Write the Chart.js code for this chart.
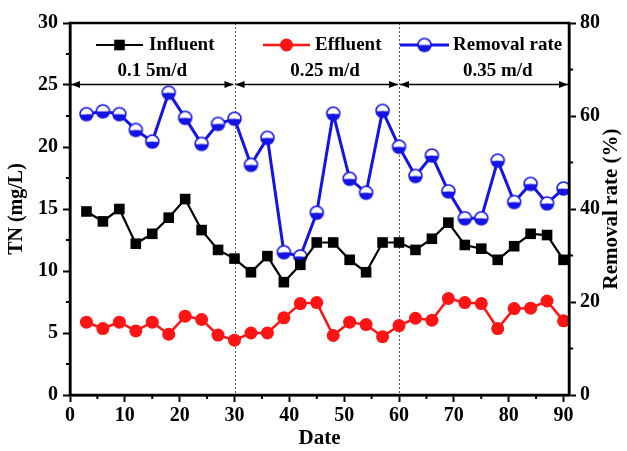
<!DOCTYPE html>
<html>
<head>
<meta charset="utf-8">
<script src="https://cdn.jsdelivr.net/npm/chart.js@4.4.0/dist/chart.umd.min.js"></script>
<style>
  html, body { margin: 0; padding: 0; background: #fff; }
</style>
</head>
<body>
<canvas id="myChart" width="627" height="451"></canvas>
<script>
const days = [3, 6, 9, 12, 15, 18, 21, 24, 27, 30, 33, 36, 39, 42, 45, 48, 51, 54, 57, 60, 63, 66, 69, 72, 75, 78, 81, 84, 87, 90];
const influent = [14.8, 14.0, 15.0, 12.2, 13.0, 14.3, 15.8, 13.3, 11.7, 11.0, 9.9, 11.2, 9.1, 10.5, 12.3, 12.3, 10.9, 9.9, 12.3, 12.3, 11.7, 12.6, 13.9, 12.1, 11.8, 10.9, 12.0, 13.0, 12.9, 10.9];
const effluent = [5.87, 5.36, 5.87, 5.17, 5.87, 4.9, 6.36, 6.09, 4.83, 4.42, 5.0, 5.0, 6.22, 7.37, 7.45, 4.8, 5.87, 5.68, 4.7, 5.6, 6.19, 6.03, 7.78, 7.45, 7.37, 5.36, 6.97, 7.0, 7.58, 5.98];
const removalRate = [60.4, 61.0, 60.4, 57.0, 54.5, 65.0, 59.6, 54.0, 58.3, 59.4, 49.5, 55.3, 30.7, 29.8, 39.2, 60.5, 46.5, 43.5, 61.1, 53.4, 47.1, 51.5, 43.8, 38.0, 38.0, 50.4, 41.5, 45.4, 41.2, 44.4];

const xTicks = [0, 10, 20, 30, 40, 50, 60, 70, 80, 90];
const xMinor = [5, 15, 25, 35, 45, 55, 65, 75, 85];
const yTicks = [0, 5, 10, 15, 20, 25, 30];
const yMinor = [2.5, 7.5, 12.5, 17.5, 22.5, 27.5];
const y1Ticks = [0, 20, 40, 60, 80];
const y1Minor = [10, 30, 50, 70];

const stageBounds = [0, 30, 60, 90];
const stageLabels = ['0.1 5m/d', '0.25 m/d', '0.35 m/d'];
const stageLabelDays = [15, 46.5, 78];

const FONT = '"Liberation Serif", "Times New Roman", serif';
const BLUE = '#1414e6';
const RED = '#ff1414';

// half filled circle used for the removal rate markers
function halfCircle(r) {
    const c = document.createElement('canvas');
    const s = 2 * r + 4;
    c.width = s;
    c.height = s;
    const g = c.getContext('2d');
    const m = s / 2;
    g.beginPath();
    g.arc(m, m, r, 0, Math.PI);
    g.fillStyle = BLUE;
    g.fill();
    g.beginPath();
    g.arc(m, m, r, Math.PI, 2 * Math.PI);
    g.fillStyle = '#fff';
    g.fill();
    g.beginPath();
    g.arc(m, m, r, 0, 2 * Math.PI);
    g.lineWidth = 1.5;
    g.strokeStyle = BLUE;
    g.stroke();
    return c;
}
const halfMarker = halfCircle(6.5);

function toPoints(values) {
    return days.map((d, i) => ({ x: d, y: values[i] }));
}

function arrowHead(ctx, x, y, dir) {
    ctx.beginPath();
    ctx.moveTo(x, y);
    ctx.lineTo(x - dir * 9, y - 3.5);
    ctx.lineTo(x - dir * 9, y + 3.5);
    ctx.closePath();
    ctx.fill();
}

const overlay = {
    id: 'overlay',
    beforeDatasetsDraw(chart) {
        const ctx = chart.ctx;
        const a = chart.chartArea;
        const x = chart.scales.x;
        ctx.save();
        ctx.strokeStyle = '#555';
        ctx.lineWidth = 1;
        ctx.setLineDash([2, 2]);
        [30, 60].forEach(v => {
            const px = Math.round(x.getPixelForValue(v)) + 0.5;
            ctx.beginPath();
            ctx.moveTo(px, a.top);
            ctx.lineTo(px, a.bottom);
            ctx.stroke();
        });
        ctx.restore();
    },
    afterDatasetsDraw(chart) {
        const ctx = chart.ctx;
        const a = chart.chartArea;
        const x = chart.scales.x;
        const y = chart.scales.y;
        const y1 = chart.scales.y1;
        ctx.save();

        // frame
        ctx.strokeStyle = '#000';
        ctx.lineWidth = 2.5;
        ctx.strokeRect(a.left, a.top, a.right - a.left, a.bottom - a.top);

        // minor ticks
        ctx.lineWidth = 2;
        ctx.beginPath();
        yMinor.forEach(v => {
            const py = y.getPixelForValue(v);
            ctx.moveTo(a.left, py);
            ctx.lineTo(a.left - 4, py);
        });
        y1Minor.forEach(v => {
            const py = y1.getPixelForValue(v);
            ctx.moveTo(a.right, py);
            ctx.lineTo(a.right + 4, py);
        });
        xMinor.forEach(v => {
            const px = x.getPixelForValue(v);
            ctx.moveTo(px, a.bottom);
            ctx.lineTo(px, a.bottom + 4);
        });
        ctx.stroke();

        // stage arrows
        const ay = y.getPixelForValue(25.05);
        ctx.fillStyle = '#000';
        ctx.lineWidth = 1.5;
        for (let i = 0; i < 3; i++) {
            const x1 = i === 0 ? a.left + 1 : x.getPixelForValue(stageBounds[i]) + 1;
            const x2 = i === 2 ? a.right - 1 : x.getPixelForValue(stageBounds[i + 1]) - 1;
            ctx.beginPath();
            ctx.moveTo(x1, ay);
            ctx.lineTo(x2, ay);
            ctx.stroke();
            arrowHead(ctx, x1, ay, -1);
            arrowHead(ctx, x2, ay, 1);
        }

        // stage labels
        ctx.font = 'bold 19px ' + FONT;
        ctx.textAlign = 'center';
        ctx.textBaseline = 'middle';
        stageLabels.forEach((t, i) => {
            ctx.fillText(t, x.getPixelForValue(stageLabelDays[i]), y.getPixelForValue(26.1));
        });

        // legend
        const ly = 45;
        const items = [
            { x1: 96, x2: 143, text: 149 },
            { x1: 263, x2: 310, text: 315 },
            { x1: 400, x2: 449, text: 453 }
        ];
        chart.data.datasets.forEach((ds, i) => {
            const it = items[i];
            ctx.strokeStyle = ds.borderColor;
            ctx.lineWidth = ds.borderWidth;
            ctx.beginPath();
            ctx.moveTo(it.x1, ly);
            ctx.lineTo(it.x2, ly);
            ctx.stroke();
            ctx.fillStyle = ds.backgroundColor;
            Chart.helpers.drawPoint(ctx, {
                pointStyle: ds.pointStyle,
                radius: ds.pointRadius,
                rotation: 0,
                borderWidth: 0
            }, (it.x1 + it.x2) / 2, ly);
            ctx.fillStyle = '#000';
            ctx.textAlign = 'left';
            ctx.fillText(ds.label, it.text, ly);
        });

        // right axis title, reading bottom to top
        ctx.font = 'bold 21px ' + FONT;
        ctx.textAlign = 'center';
        ctx.translate(612, (a.top + a.bottom) / 2);
        ctx.rotate(-Math.PI / 2);
        ctx.fillText('Removal rate (%)', 0, 0);
        ctx.restore();
    }
};

const axisGrid = {
    drawOnChartArea: false,
    drawTicks: true,
    tickLength: 7,
    tickColor: '#000',
    tickWidth: 2
};
const tickFont = { family: FONT, size: 20, weight: 'bold' };

const ctx = document.getElementById('myChart');
new Chart(ctx, {
    type: 'line',
    data: {
        datasets: [{
            label: 'Influent',
            data: toPoints(influent),
            borderColor: '#000',
            backgroundColor: '#000',
            borderWidth: 2.2,
            pointStyle: 'rect',
            pointRadius: 7.5,
            pointBorderWidth: 0,
            yAxisID: 'y'
        }, {
            label: 'Effluent',
            data: toPoints(effluent),
            borderColor: RED,
            backgroundColor: RED,
            borderWidth: 2.5,
            pointStyle: 'circle',
            pointRadius: 6.5,
            pointBorderWidth: 0,
            yAxisID: 'y'
        }, {
            label: 'Removal rate',
            data: toPoints(removalRate),
            borderColor: BLUE,
            backgroundColor: BLUE,
            borderWidth: 3,
            pointStyle: halfMarker,
            pointRadius: 6.5,
            yAxisID: 'y1'
        }]
    },
    options: {
        responsive: false,
        animation: false,
        layout: { padding: { top: 23, left: 0, right: 0, bottom: 0 } },
        plugins: {
            legend: { display: false },
            tooltip: { enabled: false }
        },
        scales: {
            x: {
                type: 'linear',
                min: 0,
                max: 91,
                afterBuildTicks: s => { s.ticks = xTicks.map(v => ({ value: v })); },
                afterFit: s => { s.height = 56; },
                grid: axisGrid,
                border: { color: '#000', width: 2.5 },
                ticks: { color: '#000', font: tickFont, padding: 2, maxRotation: 0 },
                title: { display: true, text: 'Date', color: '#000', font: { family: FONT, size: 21, weight: 'bold' }, padding: { top: 0, bottom: 0 } }
            },
            y: {
                position: 'left',
                min: 0,
                max: 30,
                afterBuildTicks: s => { s.ticks = yTicks.map(v => ({ value: v })); },
                afterFit: s => { s.width = 70; },
                grid: axisGrid,
                border: { color: '#000', width: 2.5 },
                ticks: { color: '#000', font: tickFont, padding: 5 },
                title: { display: true, text: 'TN (mg/L)', color: '#000', font: { family: FONT, size: 20, weight: 'bold' }, padding: { top: 5, bottom: 0 } }
            },
            y1: {
                position: 'right',
                min: 0,
                max: 80,
                afterBuildTicks: s => { s.ticks = y1Ticks.map(v => ({ value: v })); },
                afterFit: s => { s.width = 58; },
                grid: axisGrid,
                border: { color: '#000', width: 2.5 },
                ticks: { color: '#000', font: tickFont, padding: 4 }
            }
        }
    },
    plugins: [overlay]
});
</script>
</body>
</html>
